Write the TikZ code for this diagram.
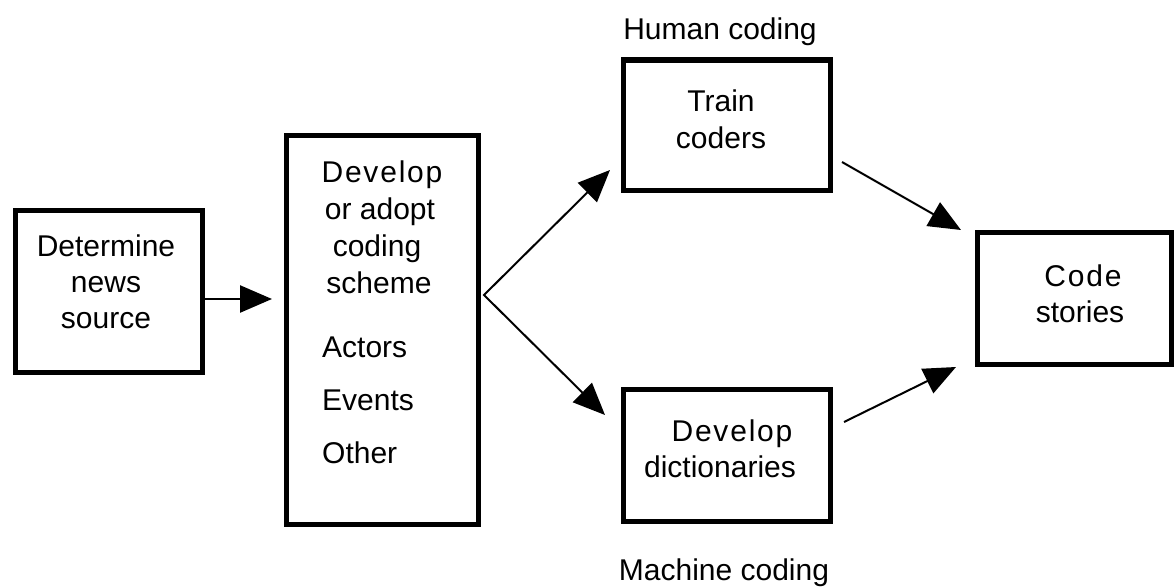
\documentclass[tikz,border=0pt]{standalone}
\usepackage{fontspec}
\setmainfont{Liberation Sans}
\usetikzlibrary{arrows.meta}
\newcommand{\spaced}[1]{{\addfontfeature{LetterSpace=6}#1}}
\begin{document}
\begin{tikzpicture}[x=1pt,y=-1pt,
  box/.style={draw, line width=5pt, inner sep=0pt},
  txt/.style={anchor=base, inner sep=0pt, font=\fontsize{30}{36}\selectfont},
  txtl/.style={txt, anchor=base west},
  tip/.style={Triangle[length=32pt,width=27pt]},
  arr/.style={line width=2.5pt, -{Triangle[length=32pt,width=27pt]}},
  darr/.style={line width=2pt, -{Triangle[length=32pt,width=27pt]}}]
\useasboundingbox (0,0) rectangle (1174,586);

% boxes
\node[box, minimum width=187pt, minimum height=162pt] (b1) at (108.5,291) {};
\node[box, minimum width=192pt, minimum height=389pt] (b2) at (382,329.5) {};
\node[box, minimum width=207pt, minimum height=130pt] (b3) at (726.5,125) {};
\node[box, minimum width=207pt, minimum height=132pt] (b4) at (726.5,455) {};
\node[box, minimum width=194pt, minimum height=132pt] (b5) at (1074,298) {};

% texts
\node[txt] (t1a) at (106,256) {Determine};
\node[txt] (t1b) at (106,292) {news};
\node[txt] (t1c) at (106,328) {source};

\node[txt] (t2a) at (382,182) {\spaced{Develop}};
\node[txt] (t2b) at (380,219) {or adopt};
\node[txt] (t2c) at (377,256) {coding};
\node[txt] (t2d) at (379,293) {scheme};
\node[txtl] (t2e) at (322,357) {Actors};
\node[txtl] (t2f) at (322,410) {Events};
\node[txtl] (t2g) at (322,463) {Other};

\node[txt] (t3a) at (721,111) {Train};
\node[txt] (t3b) at (721,148) {coders};

\node[txt] (t4a) at (732,441) {\spaced{Develop}};
\node[txt] (t4b) at (720,477) {dictionaries};

\node[txt] (t5a) at (1083,286) {\spaced{Code}};
\node[txt] (t5b) at (1080,322) {stories};

\node[txt] (hum) at (720,40) {Human coding};
\node[txt] (mac) at (724,580) {Machine coding};

% connectors
\coordinate (a1) at (272,299);
\draw[arr] (b1.east |- a1) -- (a1);

\coordinate (J) at (484,295);
\coordinate (e3) at (610,170);
\coordinate (e4) at (605,415);
\draw[line width=2pt, {Triangle[length=32pt,width=27pt]}-{Triangle[length=32pt,width=27pt]}] (e3) -- (J) -- (e4);

\coordinate (s3) at (842,162);
\coordinate (f3) at (961,230);
\coordinate (s4) at (844,422);
\coordinate (f4) at (956,367);
\draw[darr] (s3) -- (f3);
\draw[darr] (s4) -- (f4);
\end{tikzpicture}
\end{document}
